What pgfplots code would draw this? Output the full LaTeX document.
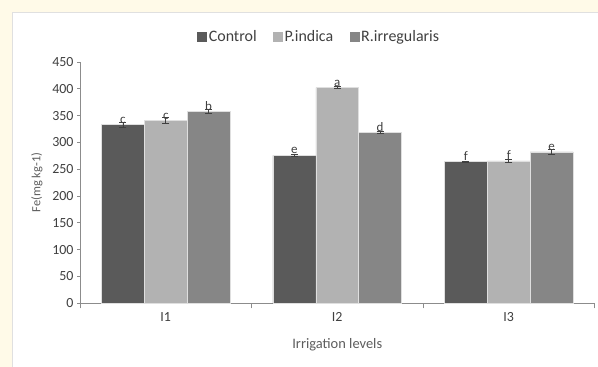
\documentclass[border=0pt]{standalone}
\usepackage{fontspec}
\setmainfont{Carlito}
\usepackage{pgfplots}
\usepackage{pgfplotstable}
\pgfplotsset{compat=1.18}
\definecolor{cream}{HTML}{FFFAE8}
\definecolor{cctrl}{HTML}{5A5A5A}
\definecolor{cpind}{HTML}{B2B2B2}
\definecolor{crirr}{HTML}{868686}
\definecolor{txt}{HTML}{404040}
\definecolor{axc}{HTML}{8C8C8C}
\pgfplotstableread{
x y e lab
1 333 5 c
2 276 2 e
3 264 1 f
}\ctrl
\pgfplotstableread{
x y e lab
1 341 5 c
2 402 2 a
3 265.5 3 f
}\pind
\pgfplotstableread{
x y e lab
1 357.5 4 b
2 318.5 2 d
3 282.5 5 e
}\rirr
\begin{document}
\begin{tikzpicture}
\fill[cream] (0,0) rectangle (598bp,-367bp);
\path[use as bounding box] (0,0) rectangle (598bp,-367bp);
\filldraw[fill=white, draw=black!12, line width=0.8bp] (12bp,-12bp) rectangle (602bp,-371bp);
\begin{axis}[
  at={(80bp,-303.3bp)}, anchor=south west,
  scale only axis, width=514.5bp, height=241.3bp,
  xmin=0.5, xmax=3.5, ymin=0, ymax=450,
  ytick={0,50,...,450},
  xtick={1,2,3}, xticklabels={I1,I2,I3},
  minor xtick={0.5,1.5,2.5,3.5},
  axis x line*=bottom, axis y line*=left,
  axis line style={axc, line width=0.8bp, -},
  x axis line style={-}, y axis line style={-},
  tick style={axc, line width=0.8bp},
  major tick length=3bp, minor tick length=5bp,
  xtick style={draw=none},
  minor x tick style={draw=axc},
  tick align=outside,
  ticklabel style={font=\fontsize{14}{16}\selectfont, text=txt},
  /pgf/number format/assume math mode=true,
  xticklabel style={yshift=-3bp},
  ylabel={Fe(mg kg-1)},
  ylabel style={font=\fontsize{12.5}{14}\selectfont, text=txt!85!white, at={(axis description cs:-0.0836,0.5)}, anchor=center, rotate=0},
  xlabel={Irrigation levels},
  xlabel style={font=\fontsize{14.5}{16}\selectfont, text=txt!85!white, at={(axis description cs:0.5,-0.173)}, anchor=center},
  ybar=0pt, bar width=0.25,
  every axis plot/.append style={draw=white!75!gray, line width=0.5bp},
  error bars/y dir=both, error bars/y explicit,
  error bars/error bar style={txt, line width=0.7bp},
  error bars/error mark options={rotate=90, mark size=3.5bp, txt, line width=0.7bp},
  nodes near coords, point meta=explicit symbolic,
  every node near coord/.append style={font=\fontsize{13}{15}\selectfont, text=txt, inner sep=1bp, anchor=south},
  legend columns=3,
  legend style={at={(0.4645,1.1036)}, anchor=center, draw=none, fill=none,
    font=\fontsize{16}{18}\selectfont, text=txt,
    nodes={inner xsep=1.5bp, inner ysep=1bp},
    /tikz/every even column/.append style={column sep=15bp}},
  legend image code/.code={\fill[#1,draw=none] (0bp,-5bp) rectangle (10bp,5bp);},
]
\addplot[fill=cctrl] table[x=x, y=y, y error=e, meta=lab] {\ctrl};
\addplot[fill=cpind] table[x=x, y=y, y error=e, meta=lab] {\pind};
\addplot[fill=crirr] table[x=x, y=y, y error=e, meta=lab] {\rirr};
\legend{Control, P.indica, R.irregularis}
\end{axis}
\end{tikzpicture}
\end{document}
